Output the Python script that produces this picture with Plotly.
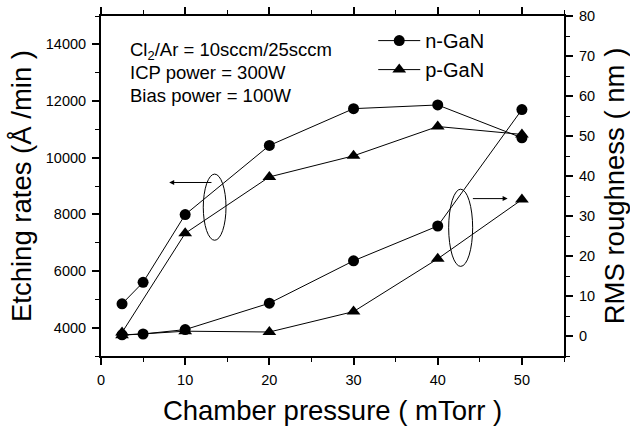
import plotly.graph_objects as go

# ---- data ----
n_x = [2.5, 5, 10, 20, 30, 40, 50]
n_etch = [4840, 5600, 7990, 10430, 11730, 11860, 10700]
n_rough = [0.3, 0.5, 1.6, 8.2, 18.8, 27.5, 56.6]

p_x = [2.5, 10, 20, 30, 40, 50]
p_etch = [3830, 7330, 9320, 10065, 11100, 10820]
p_rough = [0.2, 1.2, 1.0, 6.1, 19.3, 34.1]

x_ticks = [0, 10, 20, 30, 40, 50]
left_ticks = [4000, 6000, 8000, 10000, 12000, 14000]
right_ticks = [0, 10, 20, 30, 40, 50, 60, 70, 80]

FONT = "Arial, Liberation Sans, sans-serif"
line = dict(color="black", width=1)

fig = go.Figure()
fig.add_trace(go.Scatter(x=n_x, y=n_etch, mode="lines+markers", name="n-GaN",
                         line=line, marker=dict(symbol="circle", size=11, color="black")))
fig.add_trace(go.Scatter(x=p_x, y=p_etch, mode="lines+markers", name="p-GaN",
                         line=line, marker=dict(symbol="triangle-up", size=12, color="black")))
fig.add_trace(go.Scatter(x=n_x, y=n_rough, mode="lines+markers", name="n-GaN", yaxis="y2",
                         showlegend=False, line=line,
                         marker=dict(symbol="circle", size=11, color="black")))
fig.add_trace(go.Scatter(x=p_x, y=p_rough, mode="lines+markers", name="p-GaN", yaxis="y2",
                         showlegend=False, line=line,
                         marker=dict(symbol="triangle-up", size=12, color="black")))

axis_common = dict(showline=True, linecolor="black", linewidth=2, ticks="outside",
                   ticklen=7, tickwidth=1.5, tickcolor="black", showgrid=False,
                   zeroline=False, tickformat="d", ticklabelstandoff=3, automargin=False,
                   tickfont=dict(family=FONT, size=14.5, color="black"))

fig.update_layout(
    width=630, height=426,
    margin=dict(l=101, r=66, t=16, b=70),
    paper_bgcolor="white", plot_bgcolor="white",
    font=dict(family=FONT, color="black"),
    xaxis=dict(range=[0, 55], tickvals=x_ticks, mirror="ticks",
               minor=dict(dtick=5, ticks="outside", ticklen=4, tickcolor="black", tickwidth=1),
               title=dict(text="Chamber pressure ( mTorr )", font=dict(size=27.5, family=FONT),
                          standoff=17),
               **axis_common),
    yaxis=dict(range=[3000, 15000], tickvals=left_ticks,
               minor=dict(dtick=1000, ticks="outside", ticklen=4, tickcolor="black", tickwidth=1),
               title=dict(text="Etching rates (Å /min )", font=dict(size=27.5, family=FONT),
                          standoff=6),
               **axis_common),
    yaxis2=dict(range=[-5, 80], tickvals=right_ticks, overlaying="y", side="right",
                minor=dict(dtick=5, ticks="outside", ticklen=4, tickcolor="black", tickwidth=1),
                title=dict(text="RMS roughness ( nm )", font=dict(size=27.5, family=FONT),
                           standoff=16),
                **axis_common),
    legend=dict(x=0.588, y=0.985, xanchor="left", yanchor="top", bgcolor="rgba(0,0,0,0)",
                font=dict(size=20, family=FONT), tracegroupgap=0, itemwidth=42),
    showlegend=True,
)

# condition text
cond = ["Cl<sub>2</sub>/Ar = 10sccm/25sccm", "ICP power = 300W", "Bias power = 100W"]
cond_y = [0.897, 0.835, 0.766]
for t, yy in zip(cond, cond_y):
    fig.add_annotation(text=t, xref="paper", yref="paper", x=0.058, y=yy,
                       xanchor="left", yanchor="middle", showarrow=False,
                       font=dict(size=18.5, family=FONT))

# ellipses
fig.add_shape(type="circle", xref="x", yref="y", x0=12.15, x1=14.85, y0=7085, y1=9420,
              line=dict(color="black", width=1))
fig.add_shape(type="circle", xref="x", yref="y2", x0=41.3, x1=44.15, y0=17.4, y1=36.7,
              line=dict(color="black", width=1))

# arrows
fig.add_annotation(x=8.1, y=9124, ax=13.3, ay=9124, xref="x", yref="y", axref="x", ayref="y",
                   showarrow=True, arrowhead=2, arrowsize=1, arrowwidth=1, arrowcolor="black", text="")
fig.add_annotation(x=48.3, y=34.35, ax=44.0, ay=34.35, xref="x", yref="y2", axref="x", ayref="y2",
                   showarrow=True, arrowhead=2, arrowsize=1, arrowwidth=1, arrowcolor="black", text="")

fig.write_html("out.html")
